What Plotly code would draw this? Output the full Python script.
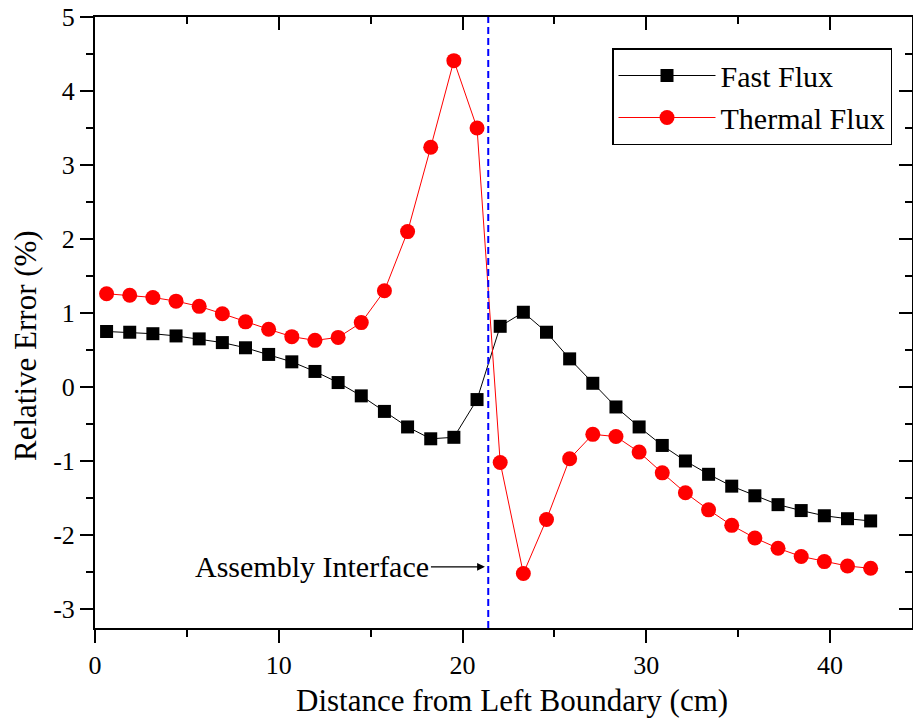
import plotly.graph_objects as go

# ---- data ----
distance_cm = [0.63, 1.89, 3.15, 4.41, 5.67, 6.93, 8.19, 9.45, 10.71, 11.97,
               13.23, 14.49, 15.75, 17.01, 18.27, 19.53, 20.79, 22.05, 23.31, 24.57,
               25.83, 27.09, 28.35, 29.61, 30.87, 32.13, 33.39, 34.65, 35.91, 37.17,
               38.43, 39.69, 40.95, 42.21]
fast_flux = [0.75, 0.74, 0.72, 0.69, 0.65, 0.60, 0.53, 0.44, 0.34, 0.21,
             0.06, -0.12, -0.33, -0.54, -0.70, -0.68, -0.17, 0.82, 1.01, 0.74,
             0.38, 0.05, -0.27, -0.54, -0.79, -1.00, -1.18, -1.34, -1.47, -1.59,
             -1.67, -1.74, -1.78, -1.81]
thermal_flux = [1.26, 1.24, 1.21, 1.16, 1.09, 0.99, 0.88, 0.78, 0.68, 0.63,
                0.67, 0.87, 1.30, 2.10, 3.24, 4.41, 3.50, -1.02, -2.52, -1.79,
                -0.97, -0.64, -0.67, -0.88, -1.16, -1.43, -1.66, -1.87, -2.04, -2.18,
                -2.29, -2.36, -2.42, -2.45]
interface_x = 21.4
x_ticks = [0, 10, 20, 30, 40]
y_ticks = [-3, -2, -1, 0, 1, 2, 3, 4, 5]
y_tick_text = ["-3", "-2", "-1", "0", "1", "2", "3", "4", "5"]
x_range = [0, 44.46]
y_range = [-3.257, 5]

FONT = "Liberation Serif"

fig = go.Figure()
fig.add_trace(go.Scatter(
    x=distance_cm, y=fast_flux, name="Fast Flux", mode="lines+markers",
    line=dict(color="black", width=1),
    marker=dict(symbol="square", size=13, color="black"),
))
fig.add_trace(go.Scatter(
    x=distance_cm, y=thermal_flux, name="Thermal Flux", mode="lines+markers",
    line=dict(color="red", width=1),
    marker=dict(symbol="circle", size=15, color="red"),
))
# invisible trace to anchor the mirrored top/right axes
fig.add_trace(go.Scatter(x=[x_range[0]], y=[y_range[0]], xaxis="x2", yaxis="y2",
                         mode="markers", marker=dict(opacity=0), showlegend=False,
                         hoverinfo="skip"))

fig.add_shape(type="line", x0=interface_x, x1=interface_x, y0=0, y1=1,
              xref="x", yref="paper",
              line=dict(color="blue", width=2, dash="7px,4px"))

fig.add_annotation(
    x=21.22, y=-2.43, xref="x", yref="y",
    text="Assembly Interface", showarrow=True,
    ax=-54, ay=0, axref="pixel", ayref="pixel",
    xanchor="right", arrowhead=2, arrowsize=1.2, arrowwidth=1.3,
    arrowcolor="black", standoff=0, startstandoff=0,
    font=dict(family=FONT, size=30, color="black"),
)

# axis titles as paper annotations (precise placement)
fig.add_annotation(
    x=(512 - 95) / 817, y=(628 - 700) / 611, xref="paper", yref="paper",
    text="Distance from Left Boundary (cm)", showarrow=False,
    xanchor="center", yanchor="middle",
    font=dict(family=FONT, size=31, color="black"),
)
fig.add_annotation(
    x=(25 - 95) / 817, y=(628 - 346) / 611, xref="paper", yref="paper",
    text="Relative Error (%)", showarrow=False, textangle=-90,
    xanchor="center", yanchor="middle",
    font=dict(family=FONT, size=31, color="black"),
)

axis_common = dict(showline=True, linecolor="black", linewidth=2,
                   showgrid=False, zeroline=False, tickcolor="black",
                   tickwidth=2, ticklen=13, automargin=False)

fig.update_layout(
    width=913, height=725,
    margin=dict(l=95, r=1, t=17, b=97),
    paper_bgcolor="white", plot_bgcolor="white",
    font=dict(family=FONT, color="black"),
    showlegend=True,
    legend=dict(
        x=(892 - 95) / 817, y=(628 - 48) / 611, xanchor="right", yanchor="top",
        bordercolor="black", borderwidth=1.5, bgcolor="white",
        font=dict(family=FONT, size=30, color="black"),
        tracegroupgap=0, itemwidth=97,
    ),
    xaxis=dict(
        **axis_common, range=x_range, tickvals=x_ticks, ticks="outside",
        tickfont=dict(family=FONT, size=26, color="black"),
        minor=dict(ticks="outside", dtick=5, tick0=0, ticklen=7,
                   tickwidth=2, tickcolor="black"),
    ),
    yaxis=dict(
        **axis_common, range=y_range, tickvals=y_ticks, ticktext=y_tick_text,
        ticks="outside",
        tickfont=dict(family=FONT, size=26, color="black"),
        minor=dict(ticks="outside", dtick=0.5, tick0=0, ticklen=7,
                   tickwidth=2, tickcolor="black"),
    ),
    xaxis2=dict(
        **axis_common, range=x_range, overlaying="x", side="top",
        tickvals=x_ticks, ticks="inside", showticklabels=False,
        minor=dict(ticks="inside", dtick=5, tick0=0, ticklen=7,
                   tickwidth=2, tickcolor="black"),
    ),
    yaxis2=dict(
        **axis_common, range=y_range, overlaying="y", side="right",
        tickvals=y_ticks, ticks="inside", showticklabels=False,
        minor=dict(ticks="inside", dtick=0.5, tick0=0, ticklen=7,
                   tickwidth=2, tickcolor="black"),
    ),
)

fig.write_html("out.html", config={"displayModeBar": False},
               post_script="document.body.style.margin='0px';")
